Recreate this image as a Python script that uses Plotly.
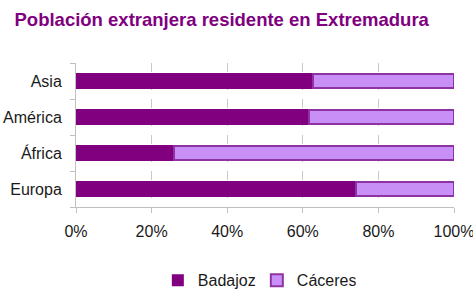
import plotly.graph_objects as go

categories = ["Europa", "África", "América", "Asia"]
badajoz = [74.0, 25.9, 61.6, 62.7]
caceres = [26.0, 74.1, 38.4, 37.3]
tick_vals = [0, 20, 40, 60, 80, 100]
tick_text = ["0%", "20%", "40%", "60%", "80%", "100%"]

FONT = "Liberation Sans, Arial, sans-serif"

fig = go.Figure()
fig.add_trace(go.Bar(
    y=categories, x=badajoz, name="Badajoz", orientation="h",
    marker=dict(color="#800080", line=dict(width=0)), width=0.42,
))
fig.add_trace(go.Bar(
    y=categories, x=caceres, name="Cáceres", orientation="h",
    marker=dict(color="#C890F6", line=dict(color="#8E34A2", width=2)), width=0.38,
))

fig.update_layout(
    barmode="stack",
    width=473, height=289,
    margin=dict(l=76, r=19, t=63, b=82, autoexpand=False),
    paper_bgcolor="white", plot_bgcolor="white",
    font=dict(family=FONT, size=16, color="#1a1a1a"),
    title=dict(text="<b>Población extranjera residente en Extremadura</b>",
               x=0.0307, xanchor="left", y=0.932, yanchor="middle",
               pad=dict(l=0, t=0, b=0, r=0),
               font=dict(family=FONT, size=18.5, color="#800080")),
    showlegend=True,
    legend=dict(orientation="h", xref="container", yref="container",
                x=0.543, xanchor="center", y=0.03, yanchor="middle",
                font=dict(size=16), traceorder="normal", itemwidth=30,
                entrywidth=54),
    xaxis=dict(range=[0, 100], tickvals=tick_vals, ticktext=tick_text,
               showgrid=True, gridcolor="#c8c8c8", griddash="dash", gridwidth=1,
               showline=True, linecolor="#c0c0c0", linewidth=1,
               ticks="outside", ticklen=5, tickcolor="#c0c0c0",
               ticklabelstandoff=5, ticklabeloverflow="allow",
               zeroline=False, automargin=False),
    yaxis=dict(categoryorder="array", categoryarray=categories,
               showline=True, linecolor="#c0c0c0", linewidth=1,
               ticks="outside", ticklen=5, tickcolor="#c0c0c0",
               tickson="boundaries", ticklabelstandoff=10,
               showgrid=False, zeroline=False, automargin=False),
)

fig.write_html("out.html", config={"displayModeBar": False},
               post_script="document.body.style.margin='0px';")
